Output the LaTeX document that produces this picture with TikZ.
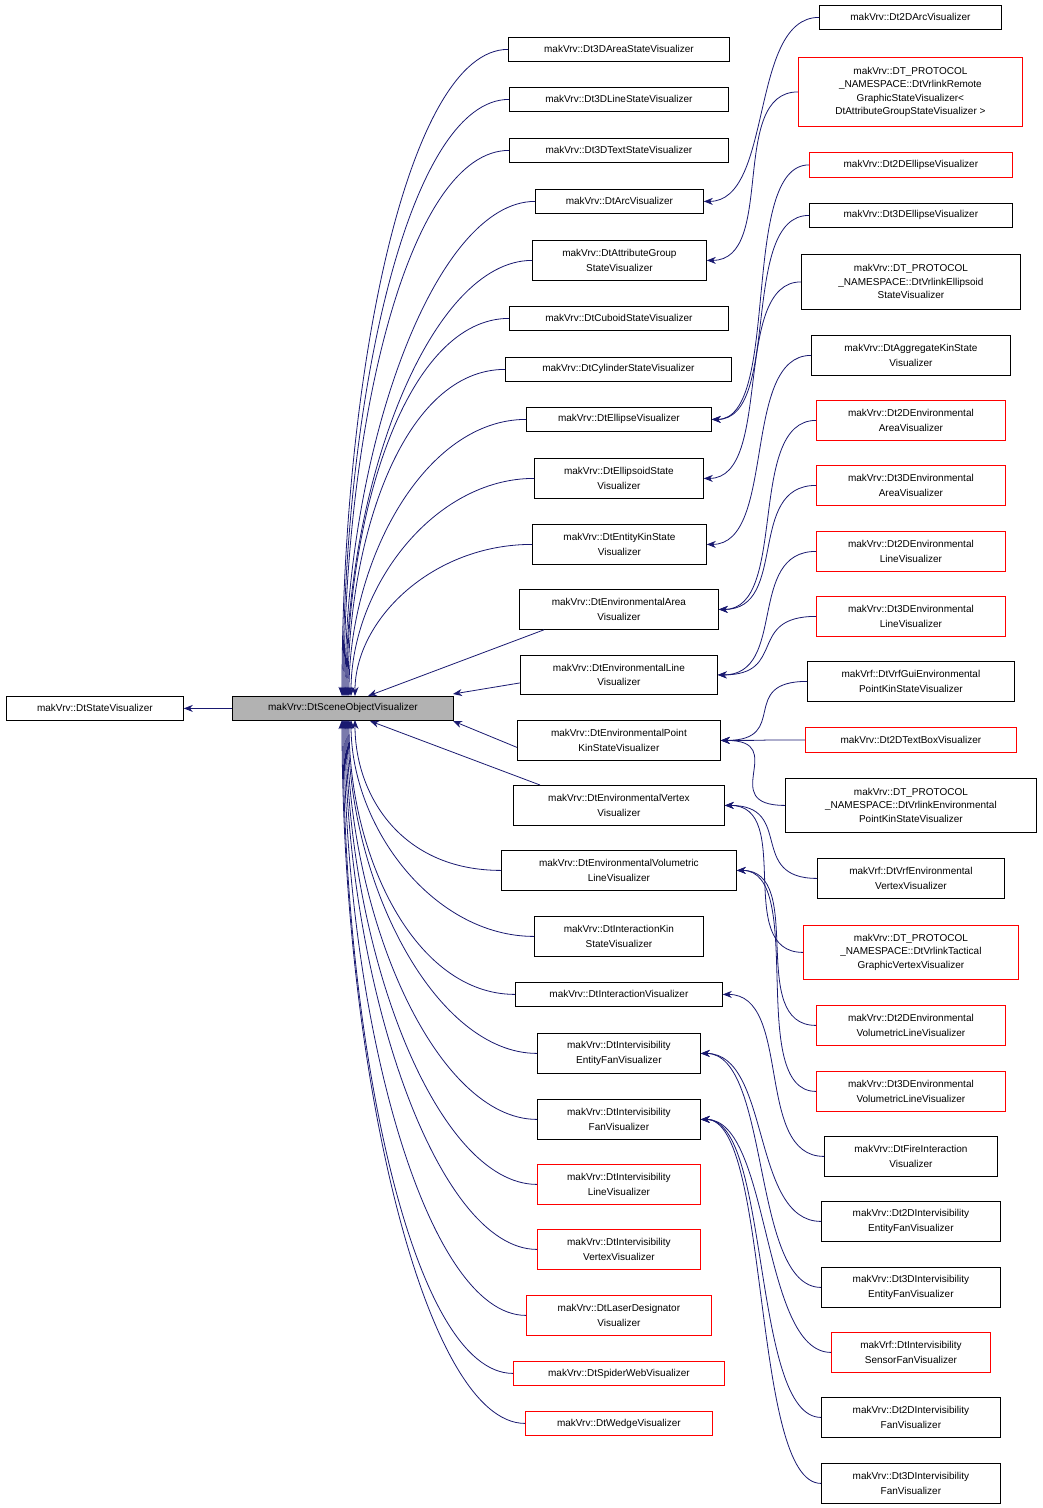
\documentclass[tikz,border=0pt]{standalone}
\usepackage{fontspec}
\setmainfont{Liberation Sans}
\usetikzlibrary{arrows.meta}
\definecolor{nav}{RGB}{25,25,112}
\tikzset{box/.style={draw=black,inner sep=0pt,align=center,font=\fontsize{10}{14.5}\selectfont,line width=0.8pt},
 rbox/.style={draw=red},
 edge/.style={draw=nav,line width=0.8pt,-{Stealth[length=9pt,width=7pt]}}}
\newcommand\bx[7][]{\node[box,#1,anchor=north west,minimum width={#5-#3},minimum height={#6-#4}] (#2) at (#3,#4) {#7};}
\begin{document}
\begin{tikzpicture}[x=1pt,y=-1pt]
\useasboundingbox (0,0) rectangle (1043,1508);
\bx{A}{6}{696}{183}{720}{makVrv::DtStateVisualizer}
\bx[fill=black!30]{B}{232}{696}{453}{720}{makVrv::DtSceneObjectVisualizer}
\bx{m1}{508}{37}{729}{61}{makVrv::Dt3DAreaStateVisualizer}
\bx{m2}{509}{87}{728}{111}{makVrv::Dt3DLineStateVisualizer}
\bx{m3}{509}{138}{728}{162}{makVrv::Dt3DTextStateVisualizer}
\bx{m4}{535}{189}{703}{213}{makVrv::DtArcVisualizer}
\bx{m5}{532}{240}{706}{280}{makVrv::DtAttributeGroup\\StateVisualizer}
\bx{m6}{509}{306}{728}{330}{makVrv::DtCuboidStateVisualizer}
\bx{m7}{505}{357}{731}{381}{makVrv::DtCylinderStateVisualizer}
\bx{m8}{526}{407}{711}{431}{makVrv::DtEllipseVisualizer}
\bx{m9}{534}{458}{703}{498}{makVrv::DtEllipsoidState\\Visualizer}
\bx{m10}{532}{524}{706}{564}{makVrv::DtEntityKinState\\Visualizer}
\bx{m11}{519}{589}{718}{629}{makVrv::DtEnvironmentalArea\\Visualizer}
\bx{m12}{520}{655}{717}{694}{makVrv::DtEnvironmentalLine\\Visualizer}
\bx{m13}{517}{720}{720}{760}{makVrv::DtEnvironmentalPoint\\KinStateVisualizer}
\bx{m14}{513}{785}{724}{825}{makVrv::DtEnvironmentalVertex\\Visualizer}
\bx{m15}{501}{850}{736}{890}{makVrv::DtEnvironmentalVolumetric\\LineVisualizer}
\bx{m16}{534}{916}{703}{956}{makVrv::DtInteractionKin\\StateVisualizer}
\bx{m17}{515}{982}{722}{1006}{makVrv::DtInteractionVisualizer}
\bx{m18}{537}{1033}{700}{1073}{makVrv::DtIntervisibility\\EntityFanVisualizer}
\bx{m19}{537}{1099}{700}{1139}{makVrv::DtIntervisibility\\FanVisualizer}
\bx[rbox]{m20}{537}{1164}{700}{1204}{makVrv::DtIntervisibility\\LineVisualizer}
\bx[rbox]{m21}{537}{1229}{700}{1269}{makVrv::DtIntervisibility\\VertexVisualizer}
\bx[rbox]{m22}{526}{1295}{711}{1335}{makVrv::DtLaserDesignator\\Visualizer}
\bx[rbox]{m23}{513}{1361}{724}{1385}{makVrv::DtSpiderWebVisualizer}
\bx[rbox]{m24}{525}{1411}{712}{1435}{makVrv::DtWedgeVisualizer}
\bx{r1}{819}{5}{1001}{29}{makVrv::Dt2DArcVisualizer}
\bx[rbox,font=\fontsize{10}{13.5}\selectfont]{r2}{798}{57}{1022}{126}{makVrv::DT\_PROTOCOL\\\_NAMESPACE::DtVrlinkRemote\\GraphicStateVisualizer<\\DtAttributeGroupStateVisualizer >}
\bx[rbox]{r3}{809}{152}{1012}{177}{makVrv::Dt2DEllipseVisualizer}
\bx{r4}{809}{203}{1012}{227}{makVrv::Dt3DEllipseVisualizer}
\bx[font=\fontsize{10}{13.5}\selectfont]{r5}{801}{254}{1020}{309}{makVrv::DT\_PROTOCOL\\\_NAMESPACE::DtVrlinkEllipsoid\\StateVisualizer}
\bx{r6}{811}{335}{1010}{375}{makVrv::DtAggregateKinState\\Visualizer}
\bx[rbox]{r7}{816}{400}{1005}{440}{makVrv::Dt2DEnvironmental\\AreaVisualizer}
\bx[rbox]{r8}{816}{465}{1005}{505}{makVrv::Dt3DEnvironmental\\AreaVisualizer}
\bx[rbox]{r9}{816}{531}{1005}{571}{makVrv::Dt2DEnvironmental\\LineVisualizer}
\bx[rbox]{r10}{816}{596}{1005}{636}{makVrv::Dt3DEnvironmental\\LineVisualizer}
\bx{r11}{807}{661}{1014}{701}{makVrf::DtVrfGuiEnvironmental\\PointKinStateVisualizer}
\bx[rbox]{r12}{805}{727}{1016}{752}{makVrv::Dt2DTextBoxVisualizer}
\bx[font=\fontsize{10}{13.5}\selectfont]{r13}{785}{778}{1036}{832}{makVrv::DT\_PROTOCOL\\\_NAMESPACE::DtVrlinkEnvironmental\\PointKinStateVisualizer}
\bx{r14}{817}{858}{1004}{898}{makVrf::DtVrfEnvironmental\\VertexVisualizer}
\bx[rbox,font=\fontsize{10}{13.5}\selectfont]{r15}{803}{925}{1018}{979}{makVrv::DT\_PROTOCOL\\\_NAMESPACE::DtVrlinkTactical\\GraphicVertexVisualizer}
\bx[rbox]{r16}{816}{1005}{1005}{1045}{makVrv::Dt2DEnvironmental\\VolumetricLineVisualizer}
\bx[rbox]{r17}{816}{1071}{1005}{1111}{makVrv::Dt3DEnvironmental\\VolumetricLineVisualizer}
\bx{r18}{824}{1136}{997}{1176}{makVrv::DtFireInteraction\\Visualizer}
\bx{r19}{821}{1201}{1000}{1241}{makVrv::Dt2DIntervisibility\\EntityFanVisualizer}
\bx{r20}{821}{1267}{1000}{1307}{makVrv::Dt3DIntervisibility\\EntityFanVisualizer}
\bx[rbox]{r21}{831}{1332}{990}{1372}{makVrf::DtIntervisibility\\SensorFanVisualizer}
\bx{r22}{821}{1397}{1000}{1437}{makVrv::Dt2DIntervisibility\\FanVisualizer}
\bx{r23}{821}{1463}{1000}{1503}{makVrv::Dt3DIntervisibility\\FanVisualizer}
\draw[edge] (B) -- (A);
\foreach \n/\yy/\ex in {m1/49/342,m2/99/343,m3/150/344,m4/201/345,m5/260/346,m6/318/347,m7/369/348,m8/419/349,m9/478/351,m10/544/355}
  \draw[edge] (\n.west) .. controls +(-100,0) and (\ex,{(\yy+696)/2}) .. (\ex,696);
\foreach \n/\yy/\ex in {m15/870/355,m16/936/351,m17/994/349,m18/1053/348,m19/1119/347,m20/1184/346,m21/1249/345,m22/1315/344,m23/1373/343,m24/1423/342}
  \draw[edge] (\n.west) .. controls +(-100,0) and (\ex,{(\yy+720)/2}) .. (\ex,720);
\draw[edge] (m11.south west) ++(25,0) -- (368,696);
\draw[edge] (m12.west) ++(0,8) -- (453,694);
\draw[edge] (m13.west) ++(0,7) -- (453,721);
\draw[edge] (m14.north west) ++(27,0) -- (370,721);
\foreach \c/\p in {r1/m4,r2/m5,r3/m8,r4/m8,r5/m9,r6/m10,r7/m11,r8/m11,r9/m12,r10/m12,r11/m13,r12/m13,r13/m13,r14/m14,r15/m14,r16/m15,r17/m15,r18/m17,r19/m18,r20/m18,r21/m19,r22/m19,r23/m19}
  \draw[edge] (\c.west) .. controls +(-70,0) and +(70,0) .. (\p.east);
\end{tikzpicture}
\end{document}
